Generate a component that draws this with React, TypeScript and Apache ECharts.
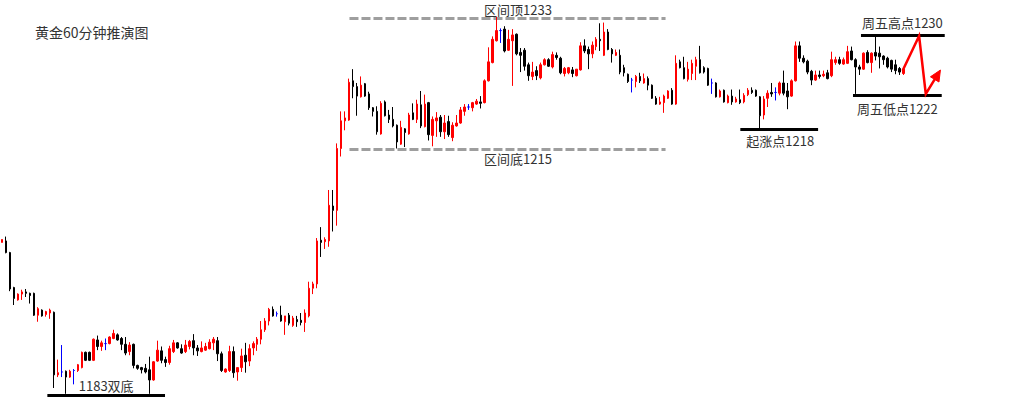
import React, { useEffect, useRef } from "react";
import * as echarts from "echarts";

// ---- candle values (60-minute gold bars) ----
const opens = [
  1202.2, 1202.4, 1200.8, 1196.0, 1194.3, 1195.1, 1195.4, 1195.2, 1195.2, 1192.2,
  1192.9, 1192.3, 1192.5, 1192.6, 1184.0, 1184.4, 1184.5, 1183.7, 1184.6, 1184.6,
  1185.0, 1187.1, 1187.1, 1186.0, 1188.8, 1187.9, 1188.3, 1188.3, 1189.0, 1189.5,
  1189.0, 1188.2, 1187.2, 1188.2, 1185.3, 1185.0, 1184.9, 1184.7, 1183.3, 1185.9,
  1187.3, 1186.1, 1185.7, 1187.2, 1188.4, 1187.6, 1187.2, 1187.9, 1188.7, 1187.7,
  1187.2, 1187.4, 1187.6, 1188.4, 1188.7, 1186.9, 1184.4, 1184.6, 1187.2, 1184.4,
  1185.0, 1186.7, 1185.9, 1187.7, 1188.2, 1188.9, 1190.2, 1191.4, 1193.0, 1192.4,
  1192.2, 1191.3, 1192.2, 1190.8, 1191.6, 1191.5, 1191.2, 1192.1, 1195.9, 1196.5,
  1202.5, 1202.3, 1202.4, 1207.2, 1206.6, 1215.1, 1218.9, 1219.0, 1224.4, 1223.6,
  1222.2, 1224.0, 1222.6, 1220.7, 1220.2, 1217.1, 1221.5, 1219.7, 1219.1, 1218.3,
  1215.7, 1217.8, 1217.1, 1220.0, 1219.1, 1221.1, 1218.1, 1221.4, 1216.9, 1218.9,
  1219.4, 1217.4, 1218.8, 1216.6, 1218.2, 1218.6, 1220.2, 1220.8, 1220.7, 1221.2,
  1221.5, 1221.4, 1224.4, 1226.9, 1229.9, 1231.3, 1231.5, 1228.6, 1229.9, 1230.8,
  1228.3, 1228.6, 1226.6, 1225.0, 1225.8, 1224.8, 1226.6, 1227.3, 1226.3, 1227.9,
  1227.5, 1225.4, 1225.5, 1225.9, 1225.1, 1225.9, 1229.2, 1228.7, 1228.1, 1229.1,
  1230.1, 1227.9, 1231.1, 1228.7, 1227.9, 1227.9, 1226.2, 1225.3, 1224.5, 1224.3,
  1225.0, 1224.1, 1224.7, 1223.8, 1222.0, 1221.2, 1221.4, 1222.0, 1223.1, 1221.2,
  1227.0, 1226.2, 1224.6, 1225.4, 1226.4, 1227.3, 1226.2, 1226.1, 1224.1, 1224.1,
  1222.2, 1223.1, 1221.4, 1222.3, 1221.5, 1221.8, 1221.5, 1222.5, 1223.1, 1223.1,
  1222.2, 1219.7, 1222.0, 1222.8, 1222.8, 1222.7, 1224.1, 1223.0, 1222.3, 1224.4,
  1229.2, 1227.5, 1227.1, 1225.7, 1224.5, 1225.2, 1225.1, 1225.5, 1225.1, 1226.9,
  1227.3, 1226.7, 1226.8, 1228.5, 1227.3, 1226.3, 1226.0, 1228.3, 1226.9, 1228.3,
  1228.2, 1227.8, 1227.5, 1227.2, 1226.6, 1226.1, 1225.4,
];
const closes = [
  1202.6, 1200.8, 1195.8, 1194.5, 1195.1, 1195.4, 1195.2, 1194.9, 1192.2, 1193.1,
  1192.1, 1192.7, 1192.9, 1184.0, 1184.3, 1184.4, 1183.7, 1184.5, 1184.6, 1185.4,
  1187.1, 1186.0, 1186.0, 1188.9, 1187.9, 1188.4, 1188.3, 1189.2, 1189.7, 1188.8,
  1188.2, 1187.0, 1188.1, 1185.3, 1184.9, 1184.7, 1184.4, 1183.3, 1185.8, 1187.4,
  1186.0, 1185.7, 1187.6, 1188.4, 1187.7, 1187.0, 1188.1, 1188.6, 1187.7, 1187.3,
  1187.7, 1187.9, 1188.5, 1188.9, 1186.9, 1184.6, 1184.8, 1187.2, 1184.3, 1185.0,
  1186.6, 1185.8, 1187.6, 1188.3, 1188.9, 1190.2, 1191.4, 1193.0, 1192.1, 1192.4,
  1191.4, 1192.1, 1191.1, 1191.8, 1191.3, 1191.2, 1192.5, 1195.9, 1196.5, 1202.4,
  1202.2, 1202.6, 1207.3, 1206.6, 1215.1, 1218.9, 1219.3, 1224.2, 1223.6, 1222.3,
  1223.8, 1222.3, 1220.7, 1220.2, 1217.4, 1221.3, 1219.6, 1219.1, 1218.2, 1216.0,
  1218.0, 1217.3, 1219.7, 1219.1, 1221.2, 1218.2, 1221.2, 1217.0, 1219.1, 1219.3,
  1217.4, 1218.6, 1217.0, 1218.3, 1218.6, 1220.4, 1220.8, 1220.8, 1221.4, 1221.6,
  1221.3, 1224.4, 1227.0, 1230.1, 1231.3, 1231.3, 1228.5, 1230.1, 1230.7, 1228.1,
  1227.9, 1226.4, 1225.1, 1225.6, 1225.1, 1226.6, 1227.3, 1226.4, 1228.0, 1227.6,
  1225.5, 1226.1, 1226.2, 1225.4, 1226.0, 1229.2, 1228.5, 1228.1, 1229.3, 1230.1,
  1229.9, 1231.1, 1228.7, 1228.1, 1228.3, 1225.6, 1225.5, 1224.3, 1224.5, 1225.0,
  1224.4, 1224.7, 1223.8, 1222.0, 1221.2, 1221.5, 1222.3, 1223.0, 1221.2, 1226.8,
  1226.2, 1224.7, 1226.0, 1226.8, 1227.3, 1225.5, 1225.6, 1223.8, 1224.1, 1222.2,
  1223.0, 1221.5, 1222.3, 1221.5, 1221.9, 1221.4, 1222.4, 1223.1, 1222.8, 1222.3,
  1219.6, 1221.9, 1222.7, 1222.6, 1222.8, 1224.1, 1222.7, 1222.2, 1224.4, 1229.2,
  1227.5, 1227.0, 1225.6, 1224.5, 1225.2, 1225.0, 1225.3, 1224.7, 1227.3, 1227.3,
  1226.8, 1227.3, 1228.4, 1227.3, 1226.3, 1226.0, 1228.2, 1226.9, 1228.2, 1227.8,
  1227.7, 1227.3, 1226.3, 1226.0, 1225.8, 1225.6, 1226.0,
];
const lows = [
  1202.2, 1200.7, 1195.5, 1193.6, 1194.2, 1194.3, 1194.7, 1193.8, 1192.1, 1191.3,
  1192.0, 1192.0, 1191.7, 1182.2, 1183.7, 1183.7, 1181.4, 1183.6, 1182.7, 1184.4,
  1184.9, 1185.9, 1185.9, 1185.9, 1187.4, 1187.3, 1187.4, 1188.2, 1188.9, 1188.7,
  1187.4, 1186.7, 1186.7, 1184.9, 1184.7, 1184.2, 1184.2, 1181.4, 1183.2, 1185.8,
  1185.6, 1185.1, 1185.4, 1187.0, 1187.6, 1186.9, 1187.0, 1187.5, 1186.7, 1186.6,
  1187.1, 1187.3, 1187.5, 1187.4, 1185.9, 1184.4, 1184.3, 1184.4, 1183.6, 1183.2,
  1184.4, 1184.3, 1185.2, 1186.7, 1187.3, 1188.2, 1189.9, 1190.8, 1192.0, 1192.0,
  1191.3, 1189.5, 1190.8, 1190.6, 1190.6, 1190.8, 1189.9, 1191.9, 1195.1, 1195.9,
  1200.2, 1201.3, 1201.6, 1203.7, 1204.5, 1214.0, 1217.6, 1218.9, 1222.0, 1219.6,
  1222.1, 1222.2, 1220.4, 1219.5, 1217.0, 1217.0, 1219.5, 1218.6, 1218.0, 1215.1,
  1215.6, 1215.3, 1217.0, 1219.0, 1218.6, 1217.9, 1218.0, 1216.2, 1215.4, 1216.7,
  1216.7, 1216.4, 1216.7, 1216.1, 1218.1, 1218.5, 1219.6, 1220.4, 1220.2, 1221.1,
  1220.6, 1221.3, 1224.3, 1226.8, 1229.8, 1229.6, 1228.3, 1228.5, 1223.7, 1227.9,
  1225.6, 1225.8, 1224.4, 1224.5, 1224.5, 1224.6, 1226.5, 1226.3, 1226.1, 1227.3,
  1225.3, 1225.0, 1225.3, 1224.9, 1225.0, 1225.8, 1228.2, 1226.0, 1227.5, 1228.6,
  1228.5, 1227.8, 1228.6, 1226.9, 1227.8, 1225.3, 1225.0, 1224.1, 1222.8, 1223.5,
  1224.1, 1224.0, 1223.1, 1221.9, 1221.1, 1221.1, 1220.0, 1221.9, 1221.1, 1221.1,
  1226.1, 1224.6, 1224.3, 1224.5, 1224.5, 1225.4, 1225.4, 1223.7, 1222.6, 1222.1,
  1222.1, 1221.4, 1221.3, 1221.1, 1221.4, 1221.2, 1221.3, 1222.3, 1222.6, 1222.2,
  1217.9, 1219.1, 1220.8, 1222.2, 1221.7, 1222.4, 1222.4, 1220.5, 1222.2, 1224.3,
  1227.0, 1226.8, 1225.3, 1223.8, 1224.4, 1224.7, 1224.9, 1224.6, 1224.9, 1226.6,
  1226.6, 1226.6, 1226.7, 1227.2, 1222.6, 1225.2, 1225.9, 1226.8, 1225.5, 1227.2,
  1226.1, 1226.6, 1226.1, 1225.6, 1225.3, 1225.2, 1225.2,
];
const highs = [
  1202.6, 1203.0, 1200.9, 1196.1, 1195.2, 1195.7, 1195.8, 1195.3, 1195.3, 1193.3,
  1193.0, 1192.8, 1193.1, 1192.7, 1186.1, 1188.1, 1184.6, 1184.7, 1184.8, 1185.5,
  1187.2, 1187.2, 1187.2, 1189.0, 1189.4, 1188.7, 1189.0, 1189.3, 1190.2, 1189.7,
  1189.2, 1189.2, 1188.5, 1188.3, 1185.4, 1185.1, 1185.5, 1186.5, 1185.9, 1188.7,
  1187.9, 1186.5, 1188.0, 1188.8, 1188.5, 1188.2, 1188.8, 1188.8, 1189.6, 1188.1,
  1188.6, 1188.4, 1188.9, 1189.2, 1189.2, 1187.2, 1184.9, 1188.0, 1187.9, 1185.0,
  1187.6, 1188.4, 1188.2, 1188.6, 1189.2, 1191.4, 1191.8, 1193.2, 1193.4, 1192.7,
  1193.5, 1192.1, 1192.5, 1192.1, 1192.1, 1192.5, 1193.0, 1196.8, 1196.8, 1202.8,
  1204.3, 1202.9, 1209.4, 1209.4, 1215.8, 1220.2, 1220.2, 1224.7, 1226.0, 1224.1,
  1225.0, 1224.1, 1222.9, 1220.8, 1220.9, 1221.6, 1221.7, 1220.4, 1220.8, 1218.4,
  1218.9, 1217.9, 1220.0, 1221.3, 1221.8, 1223.0, 1222.5, 1221.5, 1219.5, 1220.1,
  1219.7, 1219.7, 1219.6, 1218.7, 1219.7, 1220.8, 1221.2, 1221.2, 1221.5, 1221.9,
  1222.3, 1224.6, 1229.0, 1230.5, 1233.2, 1231.6, 1231.9, 1231.4, 1231.5, 1230.9,
  1228.9, 1228.9, 1226.9, 1227.0, 1226.4, 1226.9, 1227.5, 1227.5, 1228.4, 1228.3,
  1227.7, 1226.3, 1226.3, 1226.3, 1226.0, 1229.7, 1230.1, 1229.1, 1229.8, 1230.4,
  1232.3, 1232.4, 1231.5, 1228.9, 1228.7, 1228.7, 1226.6, 1225.4, 1224.8, 1225.2,
  1225.5, 1225.4, 1225.0, 1223.9, 1222.3, 1222.2, 1222.5, 1223.1, 1223.4, 1227.9,
  1227.3, 1227.7, 1227.0, 1227.3, 1227.7, 1229.2, 1226.4, 1226.2, 1224.7, 1224.2,
  1223.2, 1223.2, 1222.5, 1223.2, 1222.2, 1223.2, 1222.7, 1223.4, 1223.5, 1223.2,
  1222.3, 1222.3, 1223.1, 1224.1, 1223.5, 1224.3, 1225.8, 1224.1, 1224.6, 1229.8,
  1229.8, 1227.9, 1227.3, 1225.9, 1225.8, 1225.8, 1225.8, 1225.9, 1228.4, 1227.7,
  1227.7, 1227.6, 1229.2, 1229.1, 1227.5, 1226.6, 1228.3, 1228.6, 1228.3, 1230.6,
  1229.1, 1227.9, 1227.7, 1227.3, 1227.3, 1226.3, 1226.1,
];

// the axis keeps empty slots on the right for the projected move
const SLOT_COUNT = 256;
const categories = Array.from({ length: SLOT_COUNT }, (_, i) => `K${i + 1}`);

const PRICE_MIN = 1180;
const PRICE_MAX = 1235.5;

const chartTitle = "黄金60分钟推演图";

// annotation levels, in bar-index units and price
const solidLevels = [
  { from: 11.375, to: 40.875, price: 1181.17 },
  { from: 185.125, to: 204.625, price: 1217.71 },
  { from: 215.375, to: 236.375, price: 1230.62 },
  { from: 213.375, to: 235.625, price: 1222.38 },
];
const rangeLevels = [
  { from: 87.125, to: 166.375, price: 1232.96 },
  { from: 87.125, to: 166.375, price: 1214.97 },
];
const forecastPath = [
  [225.8, 1225.79],
  [229.95, 1230.55],
  [231.625, 1222.59],
  [235.3, 1225.88],
];
const labels = [
  { text: "区间顶1233", index: 129.375, price: 1234.26 },
  { text: "区间底1215", index: 129.375, price: 1213.66 },
  { text: "1183双底", index: 26.125, price: 1182.61 },
  { text: "起涨点1218", index: 195.125, price: 1216.13 },
  { text: "周五高点1230", index: 225.75, price: 1232.45 },
  { text: "周五低点1222", index: 224.5, price: 1220.66 },
];

const FONT = '"Noto Sans CJK SC", "Noto Sans", sans-serif';

export default function App() {
  const ref = useRef<HTMLDivElement>(null);

  useEffect(() => {
    document.body.style.margin = "0";
    const el = ref.current;
    if (!el) return;
    const chart = echarts.init(el, null, { renderer: "svg" });

    const candleData = opens.map((o, i) => {
      const value = [o, closes[i], lows[i], highs[i]];
      if (o === closes[i]) {
        return {
          value,
          itemStyle: {
            color: "#0000ff",
            color0: "#0000ff",
            borderColor: "#0000ff",
            borderColor0: "#0000ff",
          },
        };
      }
      return { value };
    });

    chart.setOption({
      animation: false,
      backgroundColor: "#ffffff",
      grid: { left: -2.5, right: -0.5, top: 0, bottom: 0, containLabel: false },
      xAxis: [
        { type: "category", data: categories, show: false, boundaryGap: true },
        { type: "value", min: -0.5, max: SLOT_COUNT - 0.5, show: false },
      ],
      yAxis: {
        type: "value",
        min: PRICE_MIN,
        max: PRICE_MAX,
        show: false,
        splitLine: { show: false },
      },
      series: [
        {
          type: "candlestick",
          xAxisIndex: 0,
          yAxisIndex: 0,
          data: candleData,
          barWidth: 2,
          itemStyle: {
            color: "#ff0000",
            color0: "#000000",
            borderColor: "#ff0000",
            borderColor0: "#000000",
            borderWidth: 1,
          },
          emphasis: { disabled: true },
        },
      ],
    });

    const px = (i: number, p: number) =>
      chart.convertToPixel({ xAxisIndex: 1, yAxisIndex: 0 }, [i, p]) as number[];

    const graphics: any[] = [];

    graphics.push({
      type: "text",
      x: 35,
      y: 32,
      style: {
        text: chartTitle,
        fill: "#333",
        fontSize: 14,
        fontFamily: FONT,
        align: "left",
        verticalAlign: "middle",
        textAlign: "left",
        textVerticalAlign: "middle",
      },
    });

    rangeLevels.forEach((lv) => {
      const a = px(lv.from, lv.price);
      const b = px(lv.to, lv.price);
      graphics.push({
        type: "line",
        shape: { x1: a[0], y1: a[1], x2: b[0], y2: b[1] },
        style: { stroke: "#9e9e9e", lineWidth: 3, lineDash: [9, 3] },
      });
    });

    solidLevels.forEach((lv) => {
      const a = px(lv.from, lv.price);
      const b = px(lv.to, lv.price);
      graphics.push({
        type: "line",
        shape: { x1: a[0], y1: a[1], x2: b[0], y2: b[1] },
        style: { stroke: "#000000", lineWidth: 3 },
      });
    });

    const pts = forecastPath.map(([i, p]) => px(i, p));
    const tip = pts[pts.length - 1];
    const prev = pts[pts.length - 2];
    const dx = tip[0] - prev[0];
    const dy = tip[1] - prev[1];
    const len = Math.sqrt(dx * dx + dy * dy);
    const ux = dx / len;
    const uy = dy / len;
    const headLen = 11;
    const headHalf = 5;
    const base = [tip[0] - ux * headLen, tip[1] - uy * headLen];
    const linePts = pts.slice(0, -1).concat([[base[0] + ux * 2, base[1] + uy * 2]]);
    graphics.push({
      type: "polyline",
      shape: { points: linePts },
      style: { stroke: "#ff0000", lineWidth: 2.5, lineJoin: "miter", fill: null },
    });
    graphics.push({
      type: "polygon",
      shape: {
        points: [
          tip,
          [base[0] - uy * headHalf, base[1] + ux * headHalf],
          [base[0] + uy * headHalf, base[1] - ux * headHalf],
        ],
      },
      style: { fill: "#ff0000", stroke: "#ff0000", lineWidth: 1 },
    });

    labels.forEach((lb) => {
      const p = px(lb.index, lb.price);
      graphics.push({
        type: "text",
        x: p[0],
        y: p[1],
        style: {
          text: lb.text,
          fill: "#333",
          fontSize: 13,
          fontFamily: FONT,
          align: "center",
          verticalAlign: "middle",
          textAlign: "center",
          textVerticalAlign: "middle",
        },
      });
    });

    chart.setOption({ graphic: graphics });

    return () => {
      chart.dispose();
    };
  }, []);

  return <div ref={ref} style={{ width: 1021, height: 404 }} />;
}
